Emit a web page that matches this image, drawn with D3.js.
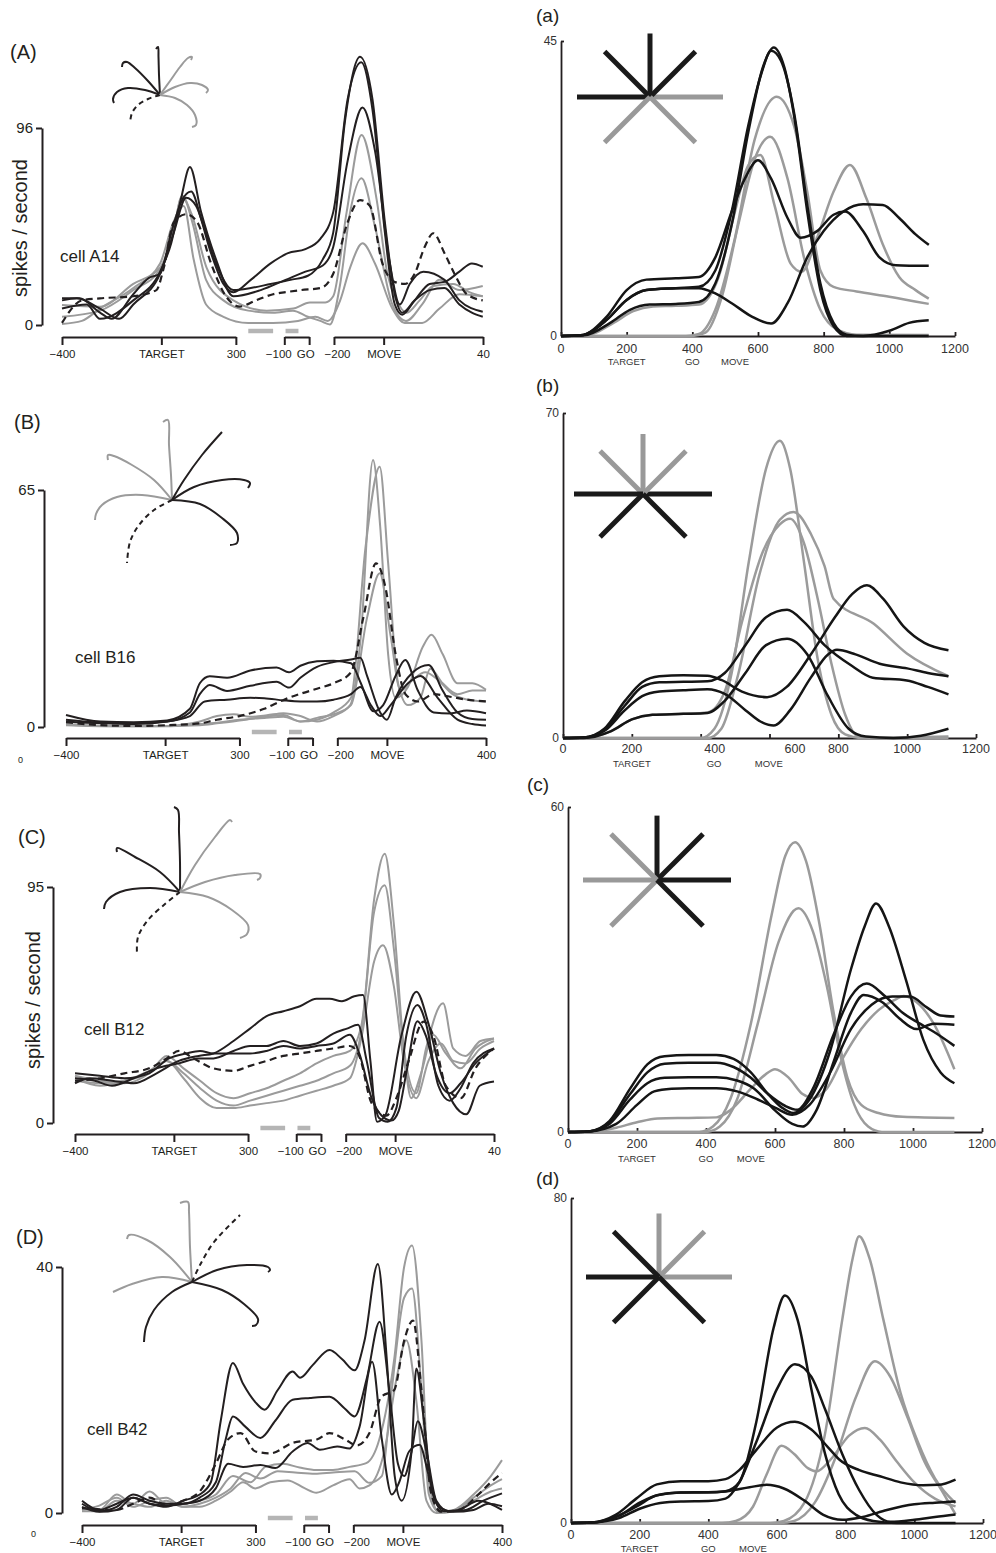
<!DOCTYPE html>
<html>
<head>
<meta charset="utf-8">
<title>Directional tuning, cells and model</title>
<script src="https://d3js.org/d3.v7.min.js"></script>
<style>
  body { margin: 0; background: #fff; }
  svg { display: block; }
</style>
</head>
<body>
<script>
// ---------- left column: recorded cells, time on a joined TARGET | GO | MOVE axis (ms) ----------
const segDomains = [[0, 700], [895, 995], [1095, 1695]];
const segTicks = [[0, 400, 700], [895, 995], [1095, 1295, 1695]];
const segLabels = [["\u2212400", "TARGET", "300"], ["\u2212100", "GO"], ["\u2212200", "MOVE", "400"]];
const lastTick = ["40", "400", "40", "400"];
const delayBars = [[750, 850], [900, 952]];
const leftMax = [96, 65, 95, 40];
const leftTags = ["(A)", "(B)", "(C)", "(D)"];
const cellNames = ["cell A14", "cell B16", "cell B12", "cell B42"];

// cell A14
const A_g1 = [[0,9.7],[153,8.9],[287,20],[395,28],[448,45],[482,62.5],[522,54],[582,28],[690,12],[824,7],[931,8],[998,11],[1060,11],[1092,14],[1146,55],[1206,92.6],[1267,61],[1310,25],[1347,12],[1388,6],[1440,12],[1495,19],[1575,20],[1640,16],[1694,14]];
const A_g2 = [[0,4],[153,7],[287,17],[395,27],[448,46],[485,63],[525,50],[580,22],[650,12],[750,7],[850,6],[930,7],[990,4],[1040,2],[1079,0.3],[1120,20],[1160,55],[1206,71.5],[1260,48],[1330,10],[1385,2],[1450,10],[1520,22],[1600,17],[1694,19]];
const A_g3 = [[0,0.5],[80,2],[153,8],[287,18],[395,30],[448,50],[490,58],[530,32],[580,10],[650,4],[750,1],[850,1],[950,2],[1020,4],[1070,2],[1120,12],[1160,28],[1210,39.8],[1260,30],[1330,8],[1380,1],[1450,1],[1520,8],[1600,15],[1694,14]];
const A_k1 = [[0,13],[70,13],[153,6],[200,3],[287,15],[350,23],[395,25],[440,45],[480,60],[520,65],[560,52],[620,30],[690,17],[760,18],[840,20],[920,22],[990,24],[1050,32],[1092,45],[1140,100],[1200,130.7],[1250,110],[1300,50],[1340,15],[1370,6],[1420,12],[1480,17],[1540,18],[1600,10],[1650,6],[1694,4]];
const A_k2 = [[0,8],[100,10],[153,3],[287,12],[395,26],[440,40],[480,62],[515,77],[560,55],[620,32],[690,14],[800,17],[900,22],[980,26],[1050,29],[1092,38],[1150,80],[1210,106],[1260,85],[1320,30],[1360,10],[1400,20],[1455,26],[1540,22],[1600,12],[1694,6.5]];
const A_k3 = [[0,12],[60,13],[153,8],[230,3],[287,10],[395,25],[450,45],[500,62],[540,58],[600,35],[650,20],[690,16],[760,22],[840,30],[910,35],[980,37],[1040,42],[1092,55],[1150,110],[1205,128],[1250,105],[1300,45],[1340,10],[1370,5],[1420,12],[1480,20],[1540,21],[1600,26],[1650,30],[1694,28.4]];
const A_dash = [[0,1],[80,12],[153,13],[287,14],[380,17],[410,28],[450,50],[500,54],[545,50],[600,30],[660,14],[716,9],[780,12],[850,15],[900,16],[960,17],[1040,18],[1092,25],[1150,50],[1200,60.9],[1240,58],[1290,30],[1340,21],[1380,20],[1420,25],[1460,38],[1495,44.7],[1540,35],[1580,25],[1630,15],[1694,12]];

// cell B16
const B_g1 = [[0,0.6],[139,0.3],[273,0.2],[408,0.3],[540,1.5],[609,3],[677,3.5],[744,2.8],[811,3.2],[878,3.8],[946,3],[1013,1.5],[1080,3],[1147,6],[1190,25],[1239,73.2],[1268,55],[1300,20],[1330,8],[1380,11],[1440,22],[1475,25.3],[1520,20],[1580,12],[1640,12],[1695,10.2]];
const B_g2 = [[0,0.8],[139,0.3],[273,0.3],[408,0.3],[540,0.5],[609,1],[700,1.8],[800,2.8],[878,3.3],[946,1.5],[1013,2],[1080,4],[1150,8],[1210,50],[1266,71.4],[1300,45],[1340,12],[1380,6],[1430,8],[1470,16],[1520,12],[1580,9],[1640,10],[1695,10]];
const B_g3 = [[0,0.5],[200,0.2],[400,0.2],[540,0.8],[609,1.2],[700,2],[800,2.5],[878,2.8],[946,1.5],[1013,2.5],[1080,3.5],[1150,6],[1215,30],[1266,42.2],[1310,25],[1350,10],[1400,13],[1450,15],[1500,13],[1560,9],[1620,7.5],[1695,7]];
const B_k1 = [[0,3.3],[139,1.5],[273,1.3],[408,1.8],[500,5],[540,12],[580,13.9],[650,13.5],[744,15.5],[850,16.3],[900,15],[946,16.8],[1013,18],[1080,18.2],[1150,17.5],[1190,12],[1241,4.3],[1280,6],[1330,14],[1369,18.4],[1420,10],[1484,4],[1550,3.7],[1618,4.5],[1695,3.8]];
const B_k2 = [[0,2],[139,1.2],[273,1],[408,1.5],[500,4],[540,9],[580,11.5],[650,9.9],[744,11.3],[850,12.4],[900,10.8],[946,13.5],[1013,16.5],[1080,17.8],[1150,18.5],[1188,19],[1215,14],[1268,4],[1295,2],[1330,8],[1400,15],[1463,17],[1520,10],[1580,4],[1640,2.2],[1695,2]];
const B_k3 = [[0,1.5],[139,1],[273,0.8],[408,1.5],[500,3],[560,7],[650,7.5],[744,8],[800,7.9],[878,7.3],[946,7],[1013,7],[1080,7.5],[1150,9],[1188,11],[1230,6],[1268,3],[1310,6],[1380,12],[1430,14],[1500,8],[1580,2],[1640,0.8],[1695,0.4]];
const B_dash = [[0,1.3],[139,0.5],[273,0.3],[408,0.5],[540,1],[609,2],[700,3],[800,5],[880,7.5],[950,9.2],[1013,10.5],[1080,12],[1150,15],[1200,30],[1251,44.9],[1290,38],[1330,20],[1370,9],[1420,7],[1484,9],[1550,8.3],[1618,7.5],[1695,7]];

// cell B12
const C_g1 = [[0,19],[102,17],[200,16],[300,20],[371,27],[439,22],[506,17],[573,12],[641,10],[708,12],[775,14],[843,17],[910,20],[977,24],[1045,27],[1112,29],[1160,40],[1210,90],[1253,108.4],[1290,80],[1330,30],[1360,10],[1400,20],[1449,35.5],[1500,28],[1560,22],[1620,30],[1695,34]];
const C_g2 = [[0,18],[102,15],[200,17],[300,21],[371,25],[439,20],[506,14],[573,9],[641,7],[708,9],[775,11],[843,13],[910,15],[977,17],[1045,20],[1112,23],[1160,38],[1210,85],[1253,95.7],[1290,70],[1330,30],[1380,12],[1420,30],[1489,48.2],[1530,30],[1580,27],[1640,33],[1695,34]];
const C_g3 = [[0,17],[102,16],[200,17],[300,20],[371,25],[439,18],[506,10],[573,6],[641,6],[708,7],[775,8],[843,9],[910,11],[977,13],[1045,15],[1112,18],[1160,35],[1210,65],[1246,71.6],[1290,55],[1330,25],[1380,10],[1430,25],[1480,32],[1530,25],[1580,24],[1640,30],[1695,33]];
const C_k1 = [[0,16],[60,18],[150,17],[237,16],[330,20],[420,25],[500,27],[560,28],[641,33],[708,38],[775,43],[843,45],[910,47],[977,50],[1030,50],[1080,49],[1130,51],[1165,51.5],[1195,25],[1222,0.5],[1255,3],[1320,35],[1381,52.8],[1430,40],[1480,20],[1530,8],[1583,3.5],[1637,15],[1695,16.7]];
const C_k2 = [[0,18],[80,17],[150,15],[237,18],[330,22],[420,24],[500,26],[560,26],[641,29],[708,31],[775,31],[843,33],[910,31],[977,32],[1045,36],[1100,38],[1145,39.5],[1180,25],[1230,2],[1265,0.5],[1300,6],[1340,35],[1385,47.5],[1420,40],[1470,15],[1516,9],[1560,14],[1610,24],[1695,30]];
const C_k3 = [[0,20],[100,19],[200,18],[300,20],[380,26],[450,28],[506,29],[560,28],[641,28],[708,28],[775,29],[843,31],[910,30],[977,31],[1045,32],[1112,35.5],[1150,28],[1200,10],[1240,3],[1280,1],[1310,5],[1340,20],[1385,41],[1420,35],[1460,20],[1516,12],[1560,16],[1620,24],[1695,30]];
const C_dash = [[0,17],[102,18],[200,20],[300,22],[371,26],[420,29],[480,26],[560,22],[641,21],[708,23],[775,25],[843,27],[910,28],[977,29],[1045,30],[1112,31],[1150,27],[1200,8],[1260,3],[1300,10],[1350,25],[1410,40.8],[1450,35],[1500,15],[1560,10],[1620,22],[1695,30]];

// cell B42
const D_g1 = [[0,0.7],[70,0.5],[140,3],[206,1.5],[273,3.5],[340,1.5],[408,1.5],[475,2],[540,3],[609,6],[680,5],[740,7.5],[811,8],[878,7.4],[946,7],[1013,7],[1080,7.5],[1147,8.1],[1200,12],[1260,25],[1300,40],[1332,43.5],[1370,28],[1400,5],[1440,0.2],[1500,0.5],[1580,3],[1650,6],[1695,8.6]];
const D_g2 = [[0,0.5],[70,1.2],[140,2.5],[206,1],[273,2],[340,2.5],[408,1],[475,1.5],[540,2.5],[600,4],[660,6.5],[720,5.6],[790,6.8],[860,6.6],[940,6.4],[1013,6.6],[1100,6.8],[1160,4.9],[1210,6],[1250,20],[1300,35],[1332,36.5],[1370,20],[1400,3],[1440,0.2],[1500,0.4],[1580,2.5],[1650,4.5],[1695,5.5]];
const D_g3 = [[0,0.3],[70,0.3],[140,2],[206,1.5],[273,1],[340,2],[408,1],[475,1],[540,2],[600,3.5],[650,5],[700,4],[760,5],[830,5.3],[900,4],[946,3.3],[1013,4.5],[1080,5.5],[1120,4],[1160,4.5],[1220,10],[1270,22],[1309,28.1],[1350,18],[1390,2],[1430,0],[1500,0.3],[1580,2],[1650,3.5],[1695,4]];
const D_k1 = [[0,2],[70,0.5],[140,1.5],[206,2.5],[273,1.5],[340,1],[408,2],[475,3],[520,5],[560,15],[609,24.4],[650,21],[700,18],[737,16.8],[790,20],[850,23],[880,22],[930,24],[999,26.5],[1050,25],[1100,23.2],[1140,28],[1194,40.5],[1230,25],[1262,6],[1290,2],[1330,10],[1349,23.5],[1380,15],[1416,3],[1460,0.3],[1520,0.5],[1600,2],[1695,0.5]];
const D_k2 = [[0,1.5],[70,0.3],[140,1],[206,3],[273,2],[340,1.5],[408,1.5],[475,2.5],[540,5],[580,12],[609,15.7],[660,14],[720,12.2],[780,15],[850,18.4],[920,18.7],[999,18.9],[1060,17],[1100,15.7],[1150,22],[1201,31.1],[1240,20],[1275,8],[1300,6],[1330,10],[1355,14.9],[1390,10],[1430,2],[1480,0.3],[1550,0.5],[1620,2],[1695,3.2]];
const D_k3 = [[0,1],[70,0.2],[140,0.5],[206,2.5],[273,1.5],[340,1.2],[408,1.5],[475,2],[540,4],[590,8],[650,7.5],[720,7.8],[780,7.3],[850,10],[910,11.4],[960,10.3],[1030,10.8],[1080,10.5],[1120,14],[1171,24.6],[1210,12],[1250,3],[1280,5],[1320,10],[1362,11.1],[1400,6],[1440,1],[1500,0.2],[1580,0.5],[1640,1.5],[1695,1.1]];
const D_dash = [[0,0.8],[140,0.5],[206,1.5],[273,2.5],[340,1.2],[408,2],[475,3.5],[540,8],[590,12],[640,13],[700,10],[760,9.7],[850,11.4],[950,12],[999,13],[1060,12],[1110,11],[1160,13],[1208,18.9],[1260,20],[1300,28],[1336,31.3],[1370,20],[1410,3],[1450,0.2],[1520,0.5],[1600,3],[1650,5],[1695,6.5]];

// hand paths shown above each cell (offsets from the start point)
const pathsA = [
  ["black", [[0,0],[-1,-20],[-1.5,-38],[-2,-48],[-4,-46]]],
  ["black", [[0,0],[-12,-14],[-25,-27],[-33,-33],[-37,-32],[-38,-28]]],
  ["black", [[0,0],[-15,-5],[-32,-7],[-43,-3],[-47,4],[-46,8]]],
  ["dashed", [[0,0],[-12,4],[-22,10],[-28,18],[-30,28]]],
  ["gray", [[0,0],[10,-14],[20,-28],[28,-37],[32,-38],[31,-35]]],
  ["gray", [[0,0],[15,-8],[30,-12],[42,-10],[48,-5],[46,-2]]],
  ["gray", [[0,0],[15,3],[27,10],[35,20],[36,30],[32,32]]]
];
const pathsB = [
  ["gray", [[0,0],[-1,-25],[-3,-55],[-4,-80],[-9,-78]]],
  ["gray", [[0,0],[-18,-20],[-40,-35],[-58,-44],[-64,-45],[-64,-40]]],
  ["gray", [[0,0],[-30,-5],[-55,-3],[-70,5],[-76,14],[-77,20]]],
  ["black", [[0,0],[12,-20],[30,-45],[50,-68]]],
  ["black", [[0,0],[22,-13],[50,-20],[72,-20],[78,-17],[76,-12]]],
  ["black", [[0,0],[28,4],[50,18],[65,33],[65,43],[58,45]]],
  ["dashed", [[0,0],[-18,10],[-33,25],[-42,42],[-45,63]]]
];
const pathsC = [
  ["black", [[0,0],[0,-30],[-1,-60],[-2,-82],[-6,-85]]],
  ["black", [[0,0],[-20,-20],[-45,-35],[-63,-44],[-63,-40]]],
  ["black", [[0,0],[-30,-4],[-60,0],[-74,10],[-76,17]]],
  ["dashed", [[0,0],[-15,12],[-32,28],[-42,45],[-43,62]]],
  ["gray", [[0,0],[15,-27],[35,-55],[50,-72],[52,-70]]],
  ["gray", [[0,0],[25,-10],[55,-17],[80,-18],[80,-14],[77,-12]]],
  ["gray", [[0,0],[28,5],[52,18],[68,33],[67,42],[60,46]]]
];
const pathsD = [
  ["gray", [[0,0],[-2,-35],[-3,-70],[-4,-80],[-12,-79]]],
  ["gray", [[0,0],[-22,-25],[-45,-42],[-63,-47],[-65,-43]]],
  ["gray", [[0,0],[-30,-5],[-60,2],[-79,10]]],
  ["dashed", [[0,0],[8,-17],[22,-40],[48,-67]]],
  ["black", [[0,0],[25,-12],[55,-17],[76,-15],[78,-12],[76,-10]]],
  ["black", [[0,0],[30,8],[52,22],[66,37],[64,43],[60,44]]],
  ["black", [[0,0],[-20,10],[-38,28],[-46,45],[-48,60]]]
];

// ---------- right column: model, time in ms ----------
const rightMax = [45, 70, 60, 80];
const rightTags = ["(a)", "(b)", "(c)", "(d)"];
const msTicks = [0, 200, 400, 600, 800, 1000, 1200];
const msLabelAt = [
  [0, 200, 400, 600, 800, 1000, 1200],
  [0, 200, 441, 674, 800, 1000, 1200],
  [0, 200, 400, 600, 800, 1000, 1200],
  [0, 200, 400, 600, 800, 1000, 1200]
];
const eventNames = ["TARGET", "GO", "MOVE"];
const eventAt = [[200, 400, 530], [200, 439, 598], [200, 400, 530], [200, 400, 530]];
const rayAngles = [0, 45, 90, 135, 180, 225, 315];
const rayKinds = [
  ["gray", "black", "black", "black", "black", "gray", "gray"],
  ["black", "gray", "gray", "gray", "black", "black", "black"],
  ["black", "black", "black", "gray", "gray", "gray", "black"],
  ["gray", "gray", "gray", "black", "black", "black", "black"]
];

const a_k1 = [[0,0],[60,0.1],[140,2.5],[200,5.5],[260,7],[350,7.3],[420,7.5],[470,10],[520,19],[570,32],[610,40],[640,43.5],[670,42],[710,34],[750,20],[790,8],[830,2],[870,0.2],[920,0],[1000,0.8],[1060,2],[1120,2.4]];
const a_k2 = [[0,0],[60,0.1],[140,3],[200,7],[260,8.6],[350,8.8],[420,9],[470,12],[520,19],[560,24],[600,26.8],[640,24],[690,18],[730,15],[780,16],[830,18.5],[865,19],[920,16],[970,12],[1020,10.8],[1120,10.7]];
const a_k3 = [[0,0],[60,0.1],[140,2.5],[200,5.5],[260,7],[350,7.3],[420,7.3],[470,6.5],[520,5],[580,3],[640,1.9],[690,5],[750,12],[800,16],[860,19],[920,20.1],[980,20],[1030,18],[1080,15.5],[1120,13.9]];
const a_k4 = [[0,0],[70,0.1],[150,2],[210,4],[270,4.8],[350,4.9],[420,5.2],[470,8],[520,17],[570,31],[615,41],[648,44],[680,41],[715,32],[750,19],[790,7],[830,1.5],[870,0],[1120,0]];
const a_g1 = [[0,0],[380,0],[420,0.3],[470,4],[530,15],[590,30],[657,36.5],[710,32],[750,22],[790,10],[830,7.5],[900,6.8],[1000,6],[1120,4.9]];
const a_g2 = [[0,0],[400,0],[440,0.5],[490,6],[540,17],[590,27],[637,30.4],[690,24],[740,12],[790,4],[840,1],[900,0.2],[1120,0.15]];
const a_g3 = [[0,0],[80,0.1],[160,2],[220,3.8],[280,4.5],[350,4.6],[420,4.8],[480,9],[530,19],[570,26],[607,27.6],[650,20],[700,11],[733,9.8],[780,15],[830,22],[880,26.1],[930,21],[980,14],[1030,9],[1080,7],[1120,5.7]];

const b_k1 = [[0,0],[60,0.1],[120,2],[180,8],[230,12],[280,13.3],[350,13.5],[420,13.4],[460,12.5],[520,10],[593,8.8],[650,11],[720,18],[790,26],[840,31],[883,32.9],[930,30],[990,24],[1050,20.5],[1120,18.9]];
const b_k2 = [[0,0],[60,0.1],[120,1.8],[180,7],[230,11],[280,12],[350,12.1],[420,12.2],[470,14],[530,20],[590,26],[651,27.6],[700,25],[760,20],[840,15.5],[900,13],[999,12.4],[1060,11],[1120,9.4]];
const b_k3 = [[0,0],[60,0.1],[120,1.5],[180,6],[230,9],[280,10],[350,10.3],[420,10.5],[470,9.5],[530,6],[575,3.5],[612,2.7],[660,6],[720,13],[770,18],[796,19],[850,18],[920,16],[1000,15],[1060,14],[1120,13.3]];
const b_k4 = [[0,0],[60,0],[140,1.5],[200,4],[260,5],[350,5.2],[420,5.4],[470,8],[530,14],[590,20],[651,21.4],[710,18],[770,9],[830,2],[880,0.3],[960,0],[1040,0.5],[1120,2]];
const b_g1 = [[0,0],[400,0],[440,2],[490,14],[540,38],[590,58],[630,64],[660,58],[700,38],[740,17],[780,5],[820,0.8],[870,0],[1120,0]];
const b_g2 = [[0,0],[420,0],[460,2],[510,14],[570,35],[630,47],[670,48.7],[720,44],[760,37],[786,30],[903,24.6],[999,18.2],[1120,13.3]];
const b_g3 = [[0,0],[60,0],[140,1.5],[200,4],[260,5],[350,5.2],[420,5.5],[470,10],[520,25],[580,40],[630,46],[660,47.2],[700,42],[740,30],[780,16],[820,5],[854,0.5],[900,0],[1120,0.3]];

const c_k1 = [[0,0],[60,0.1],[120,2],[180,8],[230,12.5],[280,14],[350,14.2],[430,14.2],[480,13.5],[530,11],[580,7],[620,4.5],[653,3.5],[700,6],[760,15],[820,30],[860,38],[893,42.2],[930,38],[980,28],[1030,17],[1080,11],[1120,9]];
const c_k2 = [[0,0],[60,0.1],[120,1.8],[180,7],[230,11],[280,12.6],[350,12.8],[430,12.8],[480,12],[530,10],[580,7],[630,4.8],[665,4.1],[710,8],[770,18],[820,25],[866,27.4],[920,25],[970,22],[1020,20],[1060,18.5],[1120,15.9]];
const c_k3 = [[0,0],[60,0.1],[120,1.5],[180,6],[230,9],[280,10],[350,10.1],[430,10.1],[490,9.5],[540,8],[600,4],[650,1.5],[680,1.0],[720,4],[770,13],[820,22],[857,25.3],[910,24],[960,21],[1010,19],[1060,20],[1120,19.8]];
const c_k4 = [[0,0],[60,0.1],[140,1.5],[200,5],[250,7.5],[300,8],[350,8.1],[430,8.1],[490,7.5],[550,6],[600,4.5],[650,3.2],[700,5],[760,11],[820,19],[880,23.5],[940,25],[992,25],[1040,23],[1080,21.5],[1120,21.3]];
const c_g1 = [[0,0],[380,0],[420,1],[470,6],[530,20],[590,40],[630,51],[658,53.5],[690,50],[730,38],[770,22],[810,10],[850,5],[900,3.5],[970,2.8],[1120,2.6]];
const c_g2 = [[0,0],[400,0],[440,1],[490,6],[550,20],[610,35],[668,41.3],[710,37],[750,27],[790,14],[830,5],[870,1],[910,0],[1120,0]];
const c_g3 = [[0,0],[60,0],[140,0.8],[200,1.8],[260,2.5],[350,2.6],[430,2.7],[470,4],[530,8],[570,10.5],[600,11.6],[640,10],[680,7],[711,6.3],[750,8],[800,14],[850,19],[900,22.5],[950,24.5],[973,25.1],[1010,24],[1060,20],[1120,11.6]];

const d_k1 = [[0,0],[60,0.1],[130,1.5],[190,4],[250,6.8],[320,7.5],[400,7.5],[450,7.8],[490,10],[540,25],[590,48],[623,56],[660,50],[700,33],[740,17],[780,7],[830,2],[880,0.5],[950,0],[1120,0]];
const d_k2 = [[0,0],[60,0.1],[140,1.2],[200,3.5],[260,4.9],[320,5.3],[400,5.4],[450,6],[490,10],[540,20],[600,33],[652,39.1],[700,36],[740,28],[790,17],[840,8],[890,2],[930,0.3],[1000,0.8],[1060,1.5],[1120,2.1]];
const d_k3 = [[0,0],[60,0.1],[130,2],[190,6],[250,9.5],[320,10.3],[400,10.3],[450,10.8],[490,13],[540,18],[600,23.5],[652,24.9],[700,23],[750,18.5],[783,15.5],[840,13],[900,11.5],[960,10],[1025,9.3],[1070,9.4],[1120,10.7]];
const d_k4 = [[0,0],[60,0.1],[140,1.8],[200,5],[260,7],[320,7.5],[400,7.6],[460,7.9],[520,8.8],[570,9.4],[620,8.5],[680,5.5],[735,2],[790,0.8],[850,1.5],[920,3.2],[1000,4.6],[1060,5],[1120,5.3]];
const d_g1 = [[0,0],[580,0],[620,0.5],[680,5],[740,22],[790,50],[820,65],[839,70.6],[870,65],[910,50],[960,32],[1010,20],[1060,11],[1120,4.9]];
const d_g2 = [[0,0],[610,0],[650,0.5],[710,5],[770,16],[830,31],[885,39.8],[930,36],[980,26],[1030,15],[1080,8],[1120,2.1]];
const d_g3 = [[0,0],[440,0],[480,0.5],[530,4],[570,12],[613,19],[650,17],[690,13.5],[715,12.7],[760,16],[810,21.5],[856,23.4],[900,20.5],[950,15],[1000,10],[1060,6],[1120,4.1]];

// ---------- grouping ----------
const leftCurves = [
  [["gray", A_g1], ["gray", A_g2], ["gray", A_g3], ["black", A_k1], ["black", A_k2], ["black", A_k3], ["dashed", A_dash]],
  [["gray", B_g1], ["gray", B_g2], ["gray", B_g3], ["black", B_k1], ["black", B_k2], ["black", B_k3], ["dashed", B_dash]],
  [["gray", C_g1], ["gray", C_g2], ["gray", C_g3], ["black", C_k1], ["black", C_k2], ["black", C_k3], ["dashed", C_dash]],
  [["gray", D_g1], ["gray", D_g2], ["gray", D_g3], ["black", D_k1], ["black", D_k2], ["black", D_k3], ["dashed", D_dash]]
];
const leftPaths = [pathsA, pathsB, pathsC, pathsD];
const rightCurves = [
  [["gray", a_g1], ["gray", a_g2], ["gray", a_g3], ["black", a_k1], ["black", a_k2], ["black", a_k3], ["black", a_k4]],
  [["gray", b_g1], ["gray", b_g2], ["gray", b_g3], ["black", b_k1], ["black", b_k2], ["black", b_k3], ["black", b_k4]],
  [["gray", c_g1], ["gray", c_g2], ["gray", c_g3], ["black", c_k1], ["black", c_k2], ["black", c_k3], ["black", c_k4]],
  [["gray", d_g1], ["gray", d_g2], ["gray", d_g3], ["black", d_k1], ["black", d_k2], ["black", d_k3], ["black", d_k4]]
];

// ---------- layout ----------
const leftLayout = [
  {x0: 62, x1: 483, yBase: 325, yTop: 128, axisX: 42, bracketY: 337, barY: 331, tag: [10, 59], cell: [60, 262], ylab: [20, 228], inset: [160, 95]},
  {x0: 66, x1: 486, yBase: 727, yTop: 490, axisX: 44, bracketY: 738, barY: 732, tag: [14, 429], cell: [75, 663], stray: [18, 763], inset: [172, 500]},
  {x0: 75, x1: 494, yBase: 1123, yTop: 887, axisX: 53, bracketY: 1134, barY: 1128, tag: [18, 844], cell: [84, 1035], ylab: [33, 1000], inset: [180, 892]},
  {x0: 82, x1: 502, yBase: 1513, yTop: 1267, axisX: 62, bracketY: 1525, barY: 1518, tag: [16, 1244], cell: [87, 1435], stray: [31, 1537], inset: [192, 1282]}
];
// small horizontal nudges of the bracket labels, as set in the figure
const segLabelShift = [[0, 0, 0], [-6, -4], [3, 0, 0]];
const rightLayout = [
  {x0: 561, x1: 955, yBase: 336, yTop: 41, tag: [536, 22], tickY: 353, subY: 365, inset: [650, 97], ray: 73},
  {x0: 563, x1: 976, yBase: 738, yTop: 413, tag: [536, 392], tickY: 753, subY: 767, inset: [643, 494], ray: 69},
  {x0: 568, x1: 982, yBase: 1132, yTop: 807, tag: [527, 791], tickY: 1148, subY: 1162, inset: [657, 880], ray: 74},
  {x0: 571, x1: 983, yBase: 1523, yTop: 1198, tag: [536, 1185], tickY: 1539, subY: 1552, inset: [659, 1277], ray: 73}
];

const FONT = '"Liberation Sans", Arial, Helvetica, sans-serif';
const NARROW = '"Liberation Sans Narrow", "Arial Narrow", "Liberation Sans", sans-serif';
const INK = "#231f20", GRAY = "#9b9b9b", RAYGRAY = "#999999";

const svg = d3.select("body").append("svg")
  .attr("width", 996)
  .attr("height", 1553)
  .attr("font-family", FONT);

function styleAxis(g, size, width, fill) {
  g.attr("font-family", FONT).attr("font-size", size);
  g.select(".domain").attr("stroke", INK).attr("stroke-width", width);
  g.selectAll(".tick line").attr("stroke", INK).attr("stroke-width", width);
  g.selectAll(".tick text").attr("fill", fill || INK);
}

// ---------- left panels ----------
leftLayout.forEach((L, i) => {
  const x = d3.scaleLinear().domain([0, 1695]).range([L.x0, L.x1]);
  const y = d3.scaleLinear().domain([0, leftMax[i]]).range([L.yBase, L.yTop]);
  const g = svg.append("g");

  g.append("g")
    .attr("transform", "translate(" + L.axisX + ",0)")
    .call(d3.axisLeft(y).tickValues([0, leftMax[i]]).tickSize(6).tickSizeOuter(0).tickPadding(3))
    .call(styleAxis, 15, 2);

  // bracketed time axis
  segDomains.forEach((dom, s) => {
    const labels = segLabels[s].slice();
    if (s === 2) labels[2] = lastTick[i];
    const sx = d3.scaleLinear().domain(dom).range(dom.map(x));
    const ax = g.append("g")
      .attr("transform", "translate(0," + L.bracketY + ")")
      .call(d3.axisBottom(sx).tickValues(segTicks[s]).tickSize(8).tickSizeOuter(0).tickPadding(4.5)
        .tickFormat((d, k) => labels[k]))
      .call(styleAxis, 11.5, 2);
    ax.selectAll(".tick text").attr("dx", (d, k) => segLabelShift[s][k]);
  });

  g.selectAll(".bar")
    .data(delayBars)
    .join("line")
    .attr("x1", d => x(d[0]))
    .attr("x2", d => x(d[1]))
    .attr("y1", L.barY)
    .attr("y2", L.barY)
    .attr("stroke", "#b5b5b5")
    .attr("stroke-width", 4.5);

  const line = d3.line()
    .x(d => x(d[0]))
    .y(d => y(d[1]))
    .curve(d3.curveMonotoneX);

  g.selectAll(".rate")
    .data(leftCurves[i])
    .join("path")
    .attr("d", d => line(d[1]))
    .attr("fill", "none")
    .attr("stroke", d => d[0] === "gray" ? GRAY : INK)
    .attr("stroke-width", d => d[0] === "dashed" ? 2.2 : 2)
    .attr("stroke-dasharray", d => d[0] === "dashed" ? "7,4.5" : null);

  // hand paths
  const ix = d3.scaleLinear().domain([-100, 100]).range([L.inset[0] - 100, L.inset[0] + 100]);
  const iy = d3.scaleLinear().domain([-100, 100]).range([L.inset[1] - 100, L.inset[1] + 100]);
  const pline = d3.line().x(d => ix(d[0])).y(d => iy(d[1])).curve(d3.curveCatmullRom);
  g.selectAll(".hand")
    .data(leftPaths[i])
    .join("path")
    .attr("d", d => pline(d[1]))
    .attr("fill", "none")
    .attr("stroke", d => d[0] === "gray" ? GRAY : INK)
    .attr("stroke-width", 2)
    .attr("stroke-dasharray", d => d[0] === "dashed" ? "5,4" : null);

  g.append("text").attr("x", L.tag[0]).attr("y", L.tag[1])
    .attr("font-size", 20).attr("fill", INK).text(leftTags[i]);
  g.append("text").attr("x", L.cell[0]).attr("y", L.cell[1])
    .attr("font-size", 17).attr("fill", INK).text(cellNames[i]);
  if (L.ylab) {
    g.append("text")
      .attr("transform", "translate(" + L.ylab[0] + "," + L.ylab[1] + ") rotate(-90)")
      .attr("text-anchor", "middle").attr("dy", "0.35em")
      .attr("font-size", 20).attr("fill", INK).text("spikes / second");
  }
  if (L.stray) {
    g.append("text").attr("x", L.stray[0]).attr("y", L.stray[1])
      .attr("font-size", 9).attr("fill", INK).text("0");
  }
});

// ---------- right panels ----------
rightLayout.forEach((R, i) => {
  const x = d3.scaleLinear().domain([0, 1200]).range([R.x0, R.x1]);
  const y = d3.scaleLinear().domain([0, rightMax[i]]).range([R.yBase, R.yTop]);
  const g = svg.append("g");

  g.append("g")
    .attr("transform", "translate(0," + R.yBase + ")")
    .call(d3.axisBottom(x).tickValues(msTicks).tickSize(-4).tickSizeOuter(0).tickFormat(""))
    .call(styleAxis, 12, 1.8);
  g.append("g")
    .attr("transform", "translate(" + R.x0 + ",0)")
    .call(d3.axisLeft(y).tickValues([0, rightMax[i]]).tickSize(-3).tickSizeOuter(0).tickPadding(4))
    .call(styleAxis, 12, 1.8, "#333");

  g.selectAll(".mslab")
    .data(msTicks)
    .join("text")
    .attr("x", (d, k) => x(msLabelAt[i][k]))
    .attr("y", R.tickY)
    .attr("text-anchor", "middle")
    .attr("font-size", 12.5)
    .attr("fill", "#333")
    .text(d => d);

  g.selectAll(".ev")
    .data(eventNames)
    .join("text")
    .attr("x", (d, k) => x(eventAt[i][k]))
    .attr("y", R.subY)
    .attr("text-anchor", "middle")
    .attr("font-family", NARROW)
    .attr("font-size", 9.5)
    .attr("fill", "#333")
    .text(d => d);

  const line = d3.line()
    .x(d => x(d[0]))
    .y(d => y(d[1]))
    .curve(d3.curveMonotoneX);

  g.selectAll(".model")
    .data(rightCurves[i])
    .join("path")
    .attr("d", d => line(d[1]))
    .attr("fill", "none")
    .attr("stroke", d => d[0] === "gray" ? GRAY : "#151515")
    .attr("stroke-width", 2.5);

  // direction star
  const rays = rayAngles.map((a, k) => ({a: a, kind: rayKinds[i][k]}));
  const len = a => (a % 180 === 0 ? 1 : a === 90 ? 0.87 : 0.88) * R.ray;
  g.selectAll(".ray")
    .data(rays)
    .join("line")
    .attr("x1", R.inset[0])
    .attr("y1", R.inset[1])
    .attr("x2", d => R.inset[0] + len(d.a) * Math.cos(d.a * Math.PI / 180))
    .attr("y2", d => R.inset[1] - len(d.a) * Math.sin(d.a * Math.PI / 180))
    .attr("stroke", d => d.kind === "gray" ? RAYGRAY : "#1a1a1a")
    .attr("stroke-width", 5);

  g.append("text").attr("x", R.tag[0]).attr("y", R.tag[1])
    .attr("font-size", 19).attr("fill", INK).text(rightTags[i]);
});
</script>
</body>
</html>
